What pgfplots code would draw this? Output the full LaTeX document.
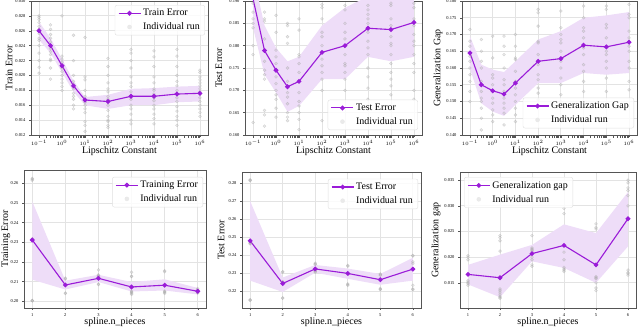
\documentclass[border=0pt]{standalone}
\usepackage{fontspec}
\setmainfont{Liberation Serif}
\usepackage{pgfplots}
\pgfplotsset{compat=1.18}
\definecolor{meanpurple}{HTML}{9A1BD8}
\definecolor{bandpurple}{HTML}{EEDDF8}
\definecolor{framegray}{HTML}{555555}

\pgfplotsset{
  mypanel/.style={
    scale only axis,
    anchor=north west,
    grid=major,
    grid style={line width=0.8bp, color=gray!22},
    axis line style={framegray, line width=0.6bp},
    tick style={framegray, line width=0.4bp},
    tick align=outside,
    major tick length=2bp,
    xtick pos=left, ytick pos=left,
    scaled y ticks=false,
    tick label style={font=\fontsize{4.5}{5}\selectfont, text=black},
    /pgf/number format/assume math mode=true,
    label style={font=\fontsize{10}{11}\selectfont},
    xlabel style={at={(axis description cs:0.5,0)}, anchor=north, yshift=-7bp},
    legend style={font=\fontsize{10}{11}\selectfont, draw=gray!25, rounded corners=2bp,
      fill=white, fill opacity=0.85, text opacity=1, inner xsep=3bp, inner ysep=2bp,
      row sep=1.5bp},
    legend cell align=left,
    legend image code/.code={
      \draw[mark repeat=2,mark phase=2] plot coordinates {(0bp,0bp) (11bp,0bp) (22bp,0bp)};},
  },
  ylab/.style={ylabel style={at={(axis description cs:-#1,0.5)}, anchor=center}},
  ydig/.style={yticklabel style={/pgf/number format/fixed, /pgf/number format/fixed zerofill,
    /pgf/number format/precision=#1}},
  mytop/.style={mypanel, xmin=0.0447, xmax=2.24e6,
    xtick={0.1,1,10,100,1000,10000,100000,1000000},
    xticklabel style={font=\fontsize{3.8}{4}\selectfont, yshift=0.5bp},
    xlabel={Lipschitz Constant}, xlabel style={yshift=-1.5bp}, width=177bp, height=134bp},
  mybot/.style={mypanel, xmin=0.75, xmax=6.25, xtick={1,2,3,4,5,6},
    xlabel={spline.n\_pieces}, xlabel style={yshift=1bp}},
  myband/.style={fill=bandpurple, draw=none, forget plot},
  myruns/.style={only marks, mark=*, mark size=1.5bp,
    mark options={draw=gray!80, fill=gray!55, draw opacity=0.35, fill opacity=0.3}, forget plot},
  mymean/.style={meanpurple, line width=1.1bp, mark=*, mark size=1.8bp,
    mark options={fill=meanpurple, draw=meanpurple}},
}
\newcommand{\runimage}{\addlegendimage{only marks, mark=*, mark size=2bp,
    color=gray!18, mark options={draw=gray!18, fill=gray!18}}}

\begin{document}
\begin{tikzpicture}
\useasboundingbox (0bp,0bp) rectangle (640bp,-328bp);

% ---------- top left: train error ----------
\begin{axis}[xmode=log, mytop, at={(31bp,-1bp)}, ymin=0.012, ymax=0.030,
  ytick={0.012,0.014,0.016,0.018,0.020,0.022,0.024,0.026,0.028,0.030}, ydig=3,
  ylabel={Train Error}, ylab=0.124,
  legend style={at={(0.983,0.97)}, anchor=north east}]
\addplot[myband] coordinates {(0.1,0.0272)(0.316,0.0250)(1,0.0222)(3.16,0.0193)(10,0.0171)(100,0.0174)(1000,0.0182)(10000,0.0183)(100000,0.0185)(1000000,0.0186)
  (1000000,0.0165)(100000,0.0164)(10000,0.0160)(1000,0.0160)(100,0.0155)(10,0.0160)(3.16,0.0178)(1,0.0204)(0.316,0.0230)(0.1,0.0248)};
\addplot[myruns] coordinates {
 (0.1,0.0280)(0.1,0.0278)(0.1,0.0275)(0.1,0.0271)(0.1,0.0266)(0.1,0.0262)(0.1,0.0256)(0.1,0.0250)(0.1,0.0247)(0.1,0.0240)(0.1,0.0230)(0.1,0.0220)(0.1,0.0211)(0.1,0.0203)
 (0.316,0.0268)(0.316,0.0262)(0.316,0.0255)(0.316,0.0250)(0.316,0.0245)(0.316,0.0240)(0.316,0.0236)(0.316,0.0232)(0.316,0.0228)(0.316,0.0222)(0.316,0.0220)(0.316,0.0210)(0.316,0.0195)
 (1,0.0280)(1,0.0226)(1,0.0222)(1,0.0218)(1,0.0214)(1,0.0210)(1,0.0205)(1,0.0200)(1,0.0195)(1,0.0190)(1,0.0185)(1,0.0180)
 (3.16,0.0254)(3.16,0.0220)(3.16,0.0200)(3.16,0.0192)(3.16,0.0188)(3.16,0.0185)(3.16,0.0182)(3.16,0.0176)(3.16,0.0172)(3.16,0.0168)(3.16,0.0160)(3.16,0.0155)
 (10,0.0251)(10,0.0198)(10,0.0194)(10,0.0180)(10,0.0172)(10,0.0168)(10,0.0166)(10,0.0164)(10,0.0160)(10,0.0155)(10,0.0150)(10,0.0138)(10,0.0133)(10,0.0125)
 (100,0.0223)(100,0.0212)(100,0.0200)(100,0.0190)(100,0.0182)(100,0.0178)(100,0.0172)(100,0.0168)(100,0.0165)(100,0.0160)(100,0.0153)(100,0.0145)(100,0.0140)(100,0.0138)(100,0.0133)(100,0.0130)
 (1000,0.0235)(1000,0.0230)(1000,0.0220)(1000,0.0210)(1000,0.0198)(1000,0.0190)(1000,0.0185)(1000,0.0178)(1000,0.0172)(1000,0.0168)(1000,0.0160)(1000,0.0155)(1000,0.0148)(1000,0.0140)(1000,0.0135)
 (10000,0.0233)(10000,0.0225)(10000,0.0212)(10000,0.0198)(10000,0.0190)(10000,0.0182)(10000,0.0180)(10000,0.0175)(10000,0.0170)(10000,0.0166)(10000,0.0160)(10000,0.0155)(10000,0.0148)(10000,0.0142)(10000,0.0135)
 (100000,0.0235)(100000,0.0226)(100000,0.0212)(100000,0.0200)(100000,0.0192)(100000,0.0186)(100000,0.0180)(100000,0.0175)(100000,0.0170)(100000,0.0165)(100000,0.0158)(100000,0.0152)(100000,0.0145)(100000,0.0140)(100000,0.0133)
 (1000000,0.0207)(1000000,0.0204)(1000000,0.0198)(1000000,0.0194)(1000000,0.0190)(1000000,0.0186)(1000000,0.0182)(1000000,0.0178)(1000000,0.0175)(1000000,0.0170)(1000000,0.0165)(1000000,0.0160)(1000000,0.0155)(1000000,0.0150)(1000000,0.0145)};
\addplot[mymean] coordinates {(0.1,0.0260)(0.316,0.0240)(1,0.0213)(3.16,0.0186)(10,0.0167)(100,0.0165)(1000,0.0172)(10000,0.0172)(100000,0.0175)(1000000,0.0176)};
\addlegendentry{Train Error}
\runimage
\addlegendentry{Individual run}
\end{axis}

% ---------- top middle: test error ----------
\begin{axis}[xmode=log, mytop, at={(245bp,-1bp)}, ymin=0.160, ymax=0.190,
  ytick={0.160,0.165,0.170,0.175,0.180,0.185,0.190}, ydig=3,
  ylabel={Test Error}, ylab=0.147,
  legend style={at={(0.977,0.037)}, anchor=south east}]
\addplot[myband] coordinates {(0.1,0.1960)(0.316,0.1845)(1,0.1795)(3.16,0.1765)(10,0.1775)(100,0.1845)(1000,0.1885)(10000,0.1910)(100000,0.1915)(1000000,0.1925)
  (1000000,0.1775)(100000,0.1765)(10000,0.1775)(1000,0.1725)(100,0.1725)(10,0.1665)(3.16,0.1652)(1,0.1695)(0.316,0.1735)(0.1,0.1840)};
\addplot[myruns] coordinates {
 (0.1,0.1895)(0.1,0.1875)(0.1,0.1860)(0.1,0.1850)(0.1,0.1840)(0.1,0.1800)(0.1,0.1780)(0.1,0.1628)
 (0.316,0.1875)(0.316,0.1860)(0.316,0.1855)(0.316,0.1815)(0.316,0.1790)(0.316,0.1765)(0.316,0.1745)(0.316,0.1735)(0.316,0.1725)(0.316,0.1655)(0.316,0.1645)(0.316,0.1620)
 (1,0.1868)(1,0.1830)(1,0.1790)(1,0.1775)(1,0.1760)(1,0.1745)(1,0.1730)(1,0.1715)(1,0.1700)(1,0.1690)(1,0.1680)(1,0.1660)(1,0.1640)
 (3.16,0.1850)(3.16,0.1845)(3.16,0.1820)(3.16,0.1805)(3.16,0.1750)(3.16,0.1720)(3.16,0.1695)(3.16,0.1685)(3.16,0.1670)(3.16,0.1650)(3.16,0.1640)(3.16,0.1632)
 (10,0.1860)(10,0.1835)(10,0.1780)(10,0.1775)(10,0.1760)(10,0.1740)(10,0.1720)(10,0.1695)(10,0.1675)(10,0.1665)(10,0.1650)(10,0.1635)(10,0.1612)
 (100,0.1892)(100,0.1885)(100,0.1860)(100,0.1830)(100,0.1820)(100,0.1800)(100,0.1785)(100,0.1770)(100,0.1755)(100,0.1740)(100,0.1725)(100,0.1700)(100,0.1632)
 (1000,0.1890)(1000,0.1880)(1000,0.1850)(1000,0.1830)(1000,0.1815)(1000,0.1800)(1000,0.1780)(1000,0.1760)(1000,0.1755)(1000,0.1740)(1000,0.1725)(1000,0.1700)
 (10000,0.1890)(10000,0.1880)(10000,0.1870)(10000,0.1860)(10000,0.1850)(10000,0.1830)(10000,0.1810)(10000,0.1795)(10000,0.1780)(10000,0.1750)(10000,0.1730)(10000,0.1705)(10000,0.1680)
 (100000,0.1895)(100000,0.1890)(100000,0.1860)(100000,0.1845)(100000,0.1820)(100000,0.1805)(100000,0.1800)(100000,0.1780)(100000,0.1760)(100000,0.1740)(100000,0.1725)(100000,0.1710)(100000,0.1690)
 (1000000,0.1895)(1000000,0.1885)(1000000,0.1860)(1000000,0.1845)(1000000,0.1825)(1000000,0.1810)(1000000,0.1800)(1000000,0.1780)(1000000,0.1760)(1000000,0.1740)(1000000,0.1700)(1000000,0.1680)};
\addplot[mymean] coordinates {(0.1,0.1905)(0.316,0.1789)(1,0.1745)(3.16,0.1708)(10,0.1720)(100,0.1785)(1000,0.1800)(10000,0.1839)(100000,0.1836)(1000000,0.1852)};
\addlegendentry{Test Error}
\runimage
\addlegendentry{Individual run}
\end{axis}

% ---------- top right: generalization gap ----------
\begin{axis}[xmode=log, mytop, at={(462bp,-1bp)}, width=175bp, ymin=0.140, ymax=0.180,
  ytick={0.140,0.145,0.150,0.155,0.160,0.165,0.170,0.175,0.180}, ydig=3,
  ylabel={Generalization Gap}, ylab=0.137,
  legend style={at={(0.983,0.05)}, anchor=south east}]
\addplot[myband] coordinates {(0.1,0.1695)(0.316,0.1610)(1,0.1595)(3.16,0.1588)(10,0.1620)(100,0.1685)(1000,0.1710)(10000,0.1750)(100000,0.1757)(1000000,0.1767)
  (1000000,0.1585)(100000,0.1580)(10000,0.1585)(1000,0.1555)(100,0.1555)(10,0.1490)(3.16,0.1457)(1,0.1470)(0.316,0.1495)(0.1,0.1598)};
\addplot[myruns] coordinates {
 (0.1,0.1715)(0.1,0.1680)(0.1,0.1665)(0.1,0.1635)(0.1,0.1620)(0.1,0.1600)(0.1,0.1580)(0.1,0.1560)(0.1,0.1530)(0.1,0.1500)
 (0.316,0.1685)(0.316,0.1650)(0.316,0.1620)(0.316,0.1600)(0.316,0.1560)(0.316,0.1530)(0.316,0.1510)(0.316,0.1500)(0.316,0.1480)(0.316,0.1450)(0.316,0.1415)
 (1,0.1695)(1,0.1630)(1,0.1580)(1,0.1570)(1,0.1550)(1,0.1530)(1,0.1510)(1,0.1495)(1,0.1475)(1,0.1460)(1,0.1440)
 (3.16,0.1695)(3.16,0.1665)(3.16,0.1640)(3.16,0.1600)(3.16,0.1565)(3.16,0.1550)(3.16,0.1530)(3.16,0.1510)(3.16,0.1495)(3.16,0.1480)(3.16,0.1465)(3.16,0.1430)
 (10,0.1700)(10,0.1665)(10,0.1630)(10,0.1625)(10,0.1590)(10,0.1560)(10,0.1540)(10,0.1520)(10,0.1500)(10,0.1480)(10,0.1460)(10,0.1440)
 (100,0.1775)(100,0.1765)(100,0.1725)(100,0.1680)(100,0.1675)(100,0.1640)(100,0.1610)(100,0.1580)(100,0.1565)(100,0.1540)(100,0.1525)(100,0.1505)(100,0.1445)
 (1000,0.1770)(1000,0.1720)(1000,0.1700)(1000,0.1685)(1000,0.1675)(1000,0.1650)(1000,0.1620)(1000,0.1600)(1000,0.1570)(1000,0.1550)(1000,0.1520)(1000,0.1500)
 (10000,0.1785)(10000,0.1750)(10000,0.1720)(10000,0.1710)(10000,0.1690)(10000,0.1660)(10000,0.1640)(10000,0.1610)(10000,0.1590)(10000,0.1560)(10000,0.1530)
 (100000,0.1785)(100000,0.1775)(100000,0.1730)(100000,0.1720)(100000,0.1690)(100000,0.1650)(100000,0.1640)(100000,0.1620)(100000,0.1600)(100000,0.1570)(100000,0.1530)
 (1000000,0.1790)(1000000,0.1760)(1000000,0.1750)(1000000,0.1710)(1000000,0.1690)(1000000,0.1665)(1000000,0.1650)(1000000,0.1620)(1000000,0.1600)(1000000,0.1560)(1000000,0.1535)};
\addplot[mymean] coordinates {(0.1,0.1645)(0.316,0.1550)(1,0.1532)(3.16,0.1522)(10,0.1555)(100,0.1620)(1000,0.1628)(10000,0.1668)(100000,0.1663)(1000000,0.1677)};
\addlegendentry{Generalization Gap}
\runimage
\addlegendentry{Individual run}
\end{axis}

% ---------- bottom left: training error ----------
\begin{axis}[mybot, at={(24bp,-170bp)}, width=182bp, height=138bp, ymin=0.1966, ymax=0.2668,
  ytick={0.20,0.21,0.22,0.23,0.24,0.25,0.26}, ydig=2,
  ylabel={Training Error}, ylab=0.099,
  legend style={at={(0.984,0.95)}, anchor=north east}]
\addplot[myband] coordinates {(1,0.2508)(2,0.2105)(3,0.2135)(4,0.2098)(5,0.2112)(6,0.2068)
  (6,0.2035)(5,0.2055)(4,0.2050)(3,0.2098)(2,0.2060)(1,0.2110)};
\addplot[myruns] coordinates {
 (1,0.2625)(1,0.2621)(1,0.2615)(1,0.2318)(1,0.2314)(1,0.2312)(1,0.2005)(1,0.2003)(1,0.2002)
 (2,0.2118)(2,0.2114)(2,0.2085)(2,0.2082)(2,0.2042)(2,0.2040)
 (3,0.2135)(3,0.2130)(3,0.2128)(3,0.2122)(3,0.2088)(3,0.2085)(3,0.2160)
 (4,0.2148)(4,0.2128)(4,0.2126)(4,0.2052)(4,0.2048)(4,0.2045)(4,0.2040)(4,0.2035)
 (5,0.2155)(5,0.2150)(5,0.2052)(5,0.2048)(5,0.2045)(5,0.2040)
 (6,0.2065)(6,0.2058)(6,0.2055)(6,0.2048)(6,0.2045)(6,0.2042)};
\addplot[mymean] coordinates {(1,0.2312)(2,0.2083)(3,0.2117)(4,0.2073)(5,0.2082)(6,0.2051)};
\addlegendentry{Training Error}
\runimage
\addlegendentry{Individual run}
\end{axis}

% ---------- bottom middle: test error ----------
\begin{axis}[mybot, at={(242bp,-172bp)}, width=179bp, height=136bp, ymin=0.2106, ymax=0.2861,
  ytick={0.22,0.23,0.24,0.25,0.26,0.27,0.28}, ydig=2,
  ylabel={Test Error}, ylab=0.117,
  legend style={at={(0.984,0.95)}, anchor=north east}]
\addplot[myband] coordinates {(1,0.2700)(2,0.2275)(3,0.2345)(4,0.2325)(5,0.2295)(6,0.2385)
  (6,0.2258)(5,0.2235)(4,0.2268)(3,0.2302)(2,0.2195)(1,0.2258)};
\addplot[myruns] coordinates {
 (1,0.2818)(1,0.2815)(1,0.2812)(1,0.2468)(1,0.2465)(1,0.2462)(1,0.2152)(1,0.2150)(1,0.2148)
 (2,0.2308)(2,0.2305)(2,0.2252)(2,0.2248)(2,0.2162)(2,0.2160)
 (3,0.2355)(3,0.2350)(3,0.2348)(3,0.2318)(3,0.2312)(3,0.2308)(3,0.2305)
 (4,0.2342)(4,0.2338)(4,0.2295)(4,0.2240)(4,0.2236)(4,0.2232)
 (5,0.2295)(5,0.2290)(5,0.2288)(5,0.2265)(5,0.2215)(5,0.2210)(5,0.2208)
 (6,0.2398)(6,0.2395)(6,0.2362)(6,0.2352)(6,0.2232)(6,0.2212)(6,0.2208)};
\addplot[mymean] coordinates {(1,0.2479)(2,0.2242)(3,0.2323)(4,0.2298)(5,0.2263)(6,0.2322)};
\addlegendentry{Test Error}
\runimage
\addlegendentry{Individual run}
\end{axis}

% ---------- bottom right: generalization gap ----------
\begin{axis}[mybot, at={(460bp,-172bp)}, width=176bp, height=136bp, ymin=0.0101, ymax=0.0366,
  ytick={0.015,0.020,0.025,0.030,0.035}, ydig=3,
  ylabel={Generalization gap}, ylab=0.136,
  legend style={at={(0.023,0.963)}, anchor=north west}]
\addplot[myband] coordinates {(1,0.0185)(2,0.0205)(3,0.0224)(4,0.0264)(5,0.0247)(6,0.0327)
  (6,0.0221)(5,0.0150)(4,0.0179)(3,0.0192)(2,0.0122)(1,0.0147)};
\addplot[myruns] coordinates {
 (1,0.0203)(1,0.0200)(1,0.0195)(1,0.0155)(1,0.0152)(1,0.0150)(1,0.0148)(1,0.0145)
 (2,0.0242)(2,0.0238)(2,0.0232)(2,0.0212)(2,0.0138)(2,0.0135)(2,0.0132)(2,0.0128)(2,0.0124)(2,0.0122)(2,0.0120)
 (3,0.0242)(3,0.0218)(3,0.0216)(3,0.0214)(3,0.0212)(3,0.0200)(3,0.0195)(3,0.0185)(3,0.0182)
 (4,0.0295)(4,0.0285)(4,0.0210)(4,0.0195)(4,0.0180)(4,0.0177)(4,0.0175)(4,0.0172)
 (5,0.0265)(5,0.0258)(5,0.0255)(5,0.0162)(5,0.0160)(5,0.0158)(5,0.0150)(5,0.0140)(5,0.0135)
 (6,0.0350)(6,0.0345)(6,0.0335)(6,0.0330)(6,0.0320)(6,0.0300)(6,0.0175)(6,0.0170)(6,0.0168)(6,0.0165)};
\addplot[mymean] coordinates {(1,0.01665)(2,0.0160)(3,0.0207)(4,0.0223)(5,0.0185)(6,0.0275)};
\addlegendentry{Generalization gap}
\runimage
\addlegendentry{Individual run}
\end{axis}
\end{tikzpicture}
\end{document}
